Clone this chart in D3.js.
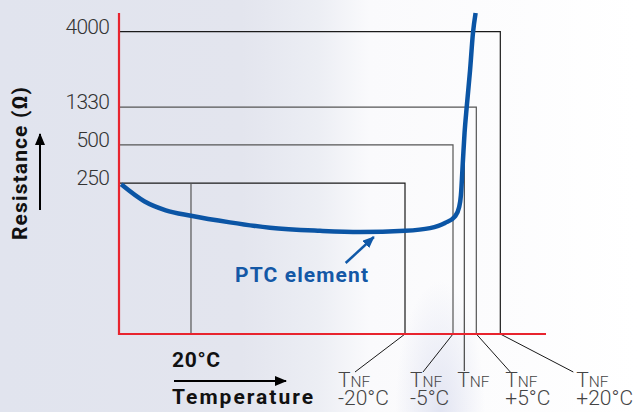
<!DOCTYPE html>
<html>
<head>
<meta charset="utf-8">
<script src="https://cdn.jsdelivr.net/npm/d3@7/dist/d3.min.js"></script>
<style>
body { margin: 0; background: #fff; }
svg { display: block; font-family: Roboto, "Open Sans", sans-serif; }
</style>
</head>
<body>
<div id="chart"></div>
<script>
// resistance levels on the y axis and the TNF offset each one belongs to
var levels = [250, 500, 1330, 4000];
var levelLabels = ["250", "500", "1330", "4000"];
var tolerances = [-20, -5, 5, 20];
// TNF marks under the x axis (offset from TNF in °C)
var tnfOffsets = [-20, -5, 0, 5, 20];
var tnfLabels = ["-20°C", "-5°C", "", "+5°C", "+20°C"];
var roomTemp = -130; // where 20°C sits on the sketch, as offset from TNF
// PTC curve: offset from TNF vs resistance
var curveT = [-149.4, -143, -137, -130, -110, -89.4, -63.7, -43.1, -20, -12.2, -7.5, -4.1, -2.3, -1.5, -0.6, 0.1, 1.0, 2.4, 3.6, 4.7];
var curveR = [248, 220, 205, 196, 185, 176, 171, 169, 171, 175.5, 184, 195, 210, 230, 401, 762, 1330, 2638, 3947, 5000];

var W = 637, H = 412;
var margin = { top: 13, left: 119 },
    width = 427,
    height = 321;

var svg = d3.select("#chart").append("svg").attr("width", W).attr("height", H);
var defs = svg.append("defs");

// background wash
var bg = defs.append("linearGradient").attr("id", "bg").attr("x1", 0).attr("x2", 1).attr("y1", 0).attr("y2", 0);
[[0, "#e1e4ee"], [0.38, "#e3e5ee"], [0.5, "#eceef4"], [0.58, "#fafafc"], [1, "#ffffff"]].forEach(function(s) {
    bg.append("stop").attr("offset", s[0]).attr("stop-color", s[1]);
});
var band = defs.append("radialGradient").attr("id", "band").attr("cx", 0.5).attr("cy", 1).attr("r", 0.5);
band.append("stop").attr("offset", 0).attr("stop-color", "#dfe2f1").attr("stop-opacity", 0.9);
band.append("stop").attr("offset", 1).attr("stop-color", "#dfe2f1").attr("stop-opacity", 0);
svg.append("rect").attr("width", W).attr("height", H).attr("fill", "url(#bg)");
svg.append("rect").attr("x", 395).attr("y", 150).attr("width", 90).attr("height", 262).attr("fill", "url(#band)");

function arrowMarker(id, color) {
    defs.append("marker").attr("id", id).attr("viewBox", "0 0 12 10").attr("refX", 11).attr("refY", 5)
        .attr("markerWidth", 12).attr("markerHeight", 10).attr("markerUnits", "userSpaceOnUse").attr("orient", "auto")
        .append("path").attr("d", "M0,0 L12,5 L0,10 Z").attr("fill", color);
}
arrowMarker("arrK", "#000");
arrowMarker("arrB", "#0f58a8");

var g = svg.append("g").attr("transform", "translate(" + margin.left + "," + margin.top + ")");

// the sketch is not to scale, so both axes are piecewise linear
var x = d3.scaleLinear()
    .domain([-150, roomTemp, -20, -5, 0, 5, 20, 30])
    .range([0, 0.1686, 0.6698, 0.7822, 0.8087, 0.8368, 0.893, 1].map(function(f) { return f * width; }));
var y = d3.scaleLinear()
    .domain([0, 250, 500, 1330, 4000, 5000])
    .range([0, 0.47, 0.589, 0.707, 0.942, 1].map(function(f) { return height * (1 - f); }));

// level boxes
levels.forEach(function(lv, i) {
    g.append("path")
        .attr("d", "M0," + y(lv) + "H" + x(tolerances[i]) + "V" + height)
        .attr("fill", "none")
        .attr("stroke", (i == 0 || i == 3) ? "#1a1a1a" : "#555")
        .attr("stroke-width", 1.2);
    g.append("text").attr("x", -10).attr("y", y(lv) + 2).attr("text-anchor", "end")
        .attr("font-size", 21).attr("font-weight", 300).attr("letter-spacing", -0.8).attr("fill", "#333")
        .text(levelLabels[i]);
});
// 20°C marker
g.append("line").attr("x1", x(roomTemp)).attr("x2", x(roomTemp)).attr("y1", y(levels[0])).attr("y2", height)
    .attr("stroke", "#555").attr("stroke-width", 1.2);

// TNF labels with their leader lines
var labelShift = [-67, -43, -7, 29, 76];
var leaderShift = [17, 13, 7, 5, -3];
var tnfIdx = curveT.findIndex(function(t) { return t >= 0; });
tnfOffsets.forEach(function(t, i) {
    var tx = x(t), lx = tx + labelShift[i];
    if (t == 0) {
        g.append("line").attr("x1", tx).attr("x2", tx).attr("y1", y(curveR[tnfIdx])).attr("y2", height + 37)
            .attr("stroke", "#444").attr("stroke-width", 1.2);
    } else {
        g.append("line").attr("x1", tx).attr("y1", height).attr("x2", lx + leaderShift[i]).attr("y2", height + 38)
            .attr("stroke", "#1a1a1a").attr("stroke-width", 1);
    }
    var lab = g.append("text").attr("x", lx).attr("y", height + 52.7).attr("fill", "#444").attr("font-weight", 300);
    lab.append("tspan").attr("font-size", 21).text("T");
    lab.append("tspan").attr("font-size", 15.5).text("NF");
    if (tnfLabels[i]) {
        lab.append("tspan").attr("x", lx).attr("dy", 18.3).attr("font-size", 21).text(tnfLabels[i]);
    }
});

// red axes
g.append("path").attr("d", "M0,0V" + height + "H" + width)
    .attr("fill", "none").attr("stroke", "#e8242e").attr("stroke-width", 2.2);

// PTC curve
var line = d3.line()
    .x(function(d) { return x(d[0]); })
    .y(function(d) { return y(d[1]); })
    .curve(d3.curveMonotoneX);
g.append("path").datum(d3.zip(curveT, curveR)).attr("d", line)
    .attr("fill", "none").attr("stroke", "#0b55a5").attr("stroke-width", 4.5);

// PTC label and pointer
g.append("text").attr("x", 116).attr("y", 269).attr("font-size", 21).attr("font-weight", 700)
    .attr("fill", "#1458a6").attr("textLength", 133).attr("lengthAdjust", "spacing").text("PTC element");
g.append("line").attr("x1", x(-50.5)).attr("y1", 250).attr("x2", x(-36)).attr("y2", y(169) + 5)
    .attr("stroke", "#0f58a8").attr("stroke-width", 2.5).attr("marker-end", "url(#arrB)");

// axis titles
svg.append("text").attr("transform", "translate(27,163.5) rotate(-90)").attr("text-anchor", "middle")
    .attr("font-size", 21).attr("font-weight", 700).attr("fill", "#111")
    .attr("textLength", 153).attr("lengthAdjust", "spacing").text("Resistance (Ω)");
svg.append("line").attr("x1", 40).attr("x2", 40).attr("y1", 210).attr("y2", 134)
    .attr("stroke", "#000").attr("stroke-width", 2).attr("marker-end", "url(#arrK)");

svg.append("text").attr("x", 172).attr("y", 366.7).attr("font-size", 21).attr("font-weight", 700).attr("fill", "#111")
    .attr("textLength", 48).attr("lengthAdjust", "spacing").text("20°C");
svg.append("line").attr("x1", 174).attr("x2", 286).attr("y1", 381).attr("y2", 381)
    .attr("stroke", "#000").attr("stroke-width", 2).attr("marker-end", "url(#arrK)");
svg.append("text").attr("x", 172).attr("y", 404).attr("font-size", 21).attr("font-weight", 700).attr("fill", "#111")
    .attr("textLength", 141).attr("lengthAdjust", "spacing").text("Temperature");
</script>
</body>
</html>
